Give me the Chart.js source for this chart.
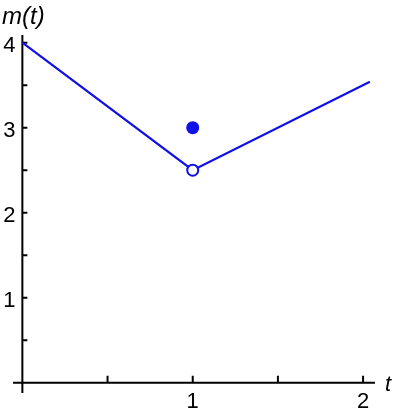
<!DOCTYPE html>
<html>
<head>
<meta charset="utf-8">
<script src="https://cdn.jsdelivr.net/npm/chart.js@4"></script>
<style>
  html, body { margin: 0; padding: 0; background: #fff; }
  #wrap { width: 400px; height: 410px; }
</style>
</head>
<body>
<div id="wrap"><canvas id="myChart" width="400" height="410"></canvas></div>
<script>
// piecewise m(t)
var lineT = [0, 1, 2.04];
var lineM = [4, 2.5, 3.54];
// point that belongs to m(1), and the hole on the line
var dotT = [1];
var dotM = [3];
var holeT = [1];
var holeM = [2.5];

var xTicks = [0.5, 1, 1.5, 2];
var xLabels = ["", "1", "", "2"];
var yTicks = [0.5, 1, 1.5, 2, 2.5, 3, 3.5, 4];
var yLabels = ["", "1", "", "2", "", "3", "", "4"];

var blue = 'rgb(16, 16, 232)';
var font = '22px "Liberation Sans", Arial, sans-serif';

function pts(xs, ys) {
    var out = [];
    xs.forEach(function (x, i) { out.push({x: x, y: ys[i]}); });
    return out;
}

const axesPlugin = {
    id: 'axes',
    beforeDatasetsDraw(chart) {
        const ctx = chart.ctx;
        const xs = chart.scales.x, ys = chart.scales.y;
        const x0 = xs.getPixelForValue(0), y0 = ys.getPixelForValue(0);
        ctx.save();
        ctx.strokeStyle = '#000';
        ctx.lineWidth = 2;
        ctx.beginPath();
        ctx.moveTo(xs.getPixelForValue(xs.min), y0);
        ctx.lineTo(xs.getPixelForValue(xs.max), y0);
        ctx.moveTo(x0, ys.getPixelForValue(ys.min));
        ctx.lineTo(x0, ys.getPixelForValue(ys.max));
        xTicks.forEach(v => {
            var p = xs.getPixelForValue(v);
            ctx.moveTo(p, y0);
            ctx.lineTo(p, y0 - 7);
        });
        yTicks.forEach(v => {
            var p = ys.getPixelForValue(v);
            ctx.moveTo(x0, p);
            ctx.lineTo(x0 + 5, p);
        });
        ctx.stroke();

        ctx.fillStyle = '#000';
        ctx.font = font;
        ctx.textAlign = 'center';
        ctx.textBaseline = 'alphabetic';
        xTicks.forEach((v, i) => {
            ctx.fillText(xLabels[i], xs.getPixelForValue(v), y0 + 25);
        });
        ctx.textAlign = 'right';
        yTicks.forEach((v, i) => {
            ctx.fillText(yLabels[i], x0 - 7, ys.getPixelForValue(v) + 9);
        });

        ctx.textAlign = 'left';
        ctx.font = 'italic 24px "Liberation Sans", Arial, sans-serif';
        ctx.fillText('m(t)', 2, 24);
        ctx.font = 'italic 22px "Liberation Sans", Arial, sans-serif';
        ctx.fillText('t', xs.getPixelForValue(xs.max) + 10, y0 + 8);
        ctx.restore();
    }
};

const config = {
    type: 'scatter',
    data: {
        datasets: [{
            data: pts(holeT, holeM),
            pointRadius: 5.5,
            pointBorderWidth: 2,
            pointBackgroundColor: '#fff',
            pointBorderColor: blue,
            order: 0
        }, {
            data: pts(dotT, dotM),
            pointRadius: 6.5,
            pointBorderWidth: 0,
            pointBackgroundColor: blue,
            pointBorderColor: blue,
            order: 1
        }, {
            data: pts(lineT, lineM),
            showLine: true,
            borderColor: blue,
            borderWidth: 2.2,
            pointRadius: 0,
            fill: false,
            order: 2
        }]
    },
    options: {
        responsive: false,
        animation: false,
        layout: { padding: { left: 13, right: 25, top: 35, bottom: 17 } },
        scales: {
            x: { type: 'linear', min: -0.055, max: 2.07, display: false },
            y: { type: 'linear', min: -0.12, max: 4.09, display: false }
        },
        plugins: {
            legend: { display: false },
            tooltip: { enabled: false }
        }
    },
    plugins: [axesPlugin]
};

const myChart = new Chart(document.getElementById('myChart'), config);
</script>
</body>
</html>
